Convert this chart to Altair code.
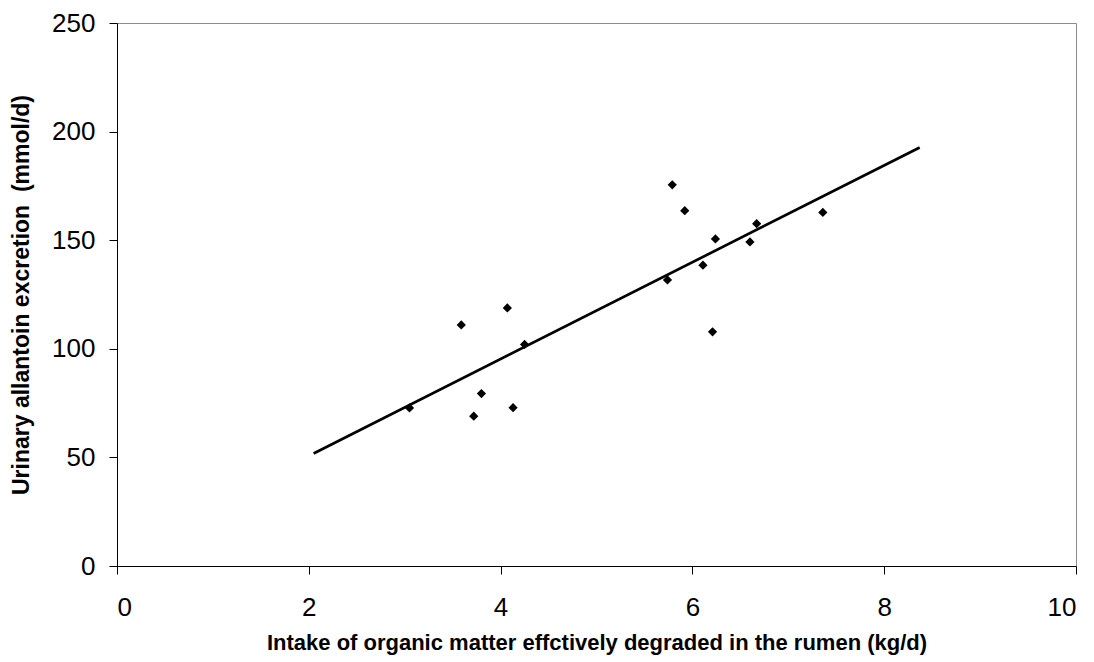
import altair as alt
import pandas as pd

# Observed points (intake kg/d, allantoin mmol/d)
intake = [3.05, 3.59, 4.07, 4.25, 3.80, 3.72, 4.13,
          5.79, 5.92, 6.24, 6.67, 6.60, 6.11, 5.74, 6.21, 7.36]
allantoin = [72.8, 111.0, 118.8, 102.0, 79.4, 69.0, 72.9,
             175.5, 163.6, 150.6, 157.6, 149.2, 138.5, 131.7, 107.8, 162.8]

# Regression line end points
line_x = [2.05, 8.37]
line_y = [51.8, 192.7]

pts = pd.DataFrame({"x": intake, "y": allantoin})
ln = pd.DataFrame({"x": line_x, "y": line_y})

FONT = "Liberation Sans"

xscale = alt.Scale(domain=[0, 10], nice=False, zero=True)
yscale = alt.Scale(domain=[0, 250], nice=False, zero=True)

xaxis = alt.Axis(
    title="Intake of organic matter effctively degraded in the rumen (kg/d)",
    values=[0, 2, 4, 6, 8, 10], format="d", grid=False, domainColor="black",
    tickColor="black", tickSize=8, labelFontSize=26, labelFont=FONT,
    labelColor="black", labelPadding=20, titleFont=FONT, titleFontSize=22,
    titleFontWeight="bold", titleColor="black", titlePadding=12,
)
yaxis = alt.Axis(
    title="Urinary allantoin excretion\u00a0 (mmol/d)",
    values=[0, 50, 100, 150, 200, 250], format="d", grid=False,
    domainColor="black", tickColor="black", tickSize=8, labelFontSize=26,
    labelFont=FONT, labelColor="black", labelPadding=14, titleFont=FONT,
    titleFontSize=23, titleFontWeight="bold", titleColor="black",
    titlePadding=18,
)

points = alt.Chart(pts).mark_point(
    shape="diamond", filled=True, color="black", size=85, opacity=1
).encode(
    x=alt.X("x:Q", scale=xscale, axis=xaxis),
    y=alt.Y("y:Q", scale=yscale, axis=yaxis),
)

line = alt.Chart(ln).mark_line(color="black", strokeWidth=2.7).encode(
    x=alt.X("x:Q", scale=xscale),
    y=alt.Y("y:Q", scale=yscale),
)

chart = alt.layer(line, points).properties(
    width=959, height=543,
    autosize=alt.AutoSizeParams(type="none"),
    padding={"left": 109, "top": 15, "right": 10, "bottom": 90},
    background="white",
).configure_view(stroke="#8c8c8c", strokeWidth=1)

chart.save("out.html", embed_options={"renderer": "svg", "actions": False})
